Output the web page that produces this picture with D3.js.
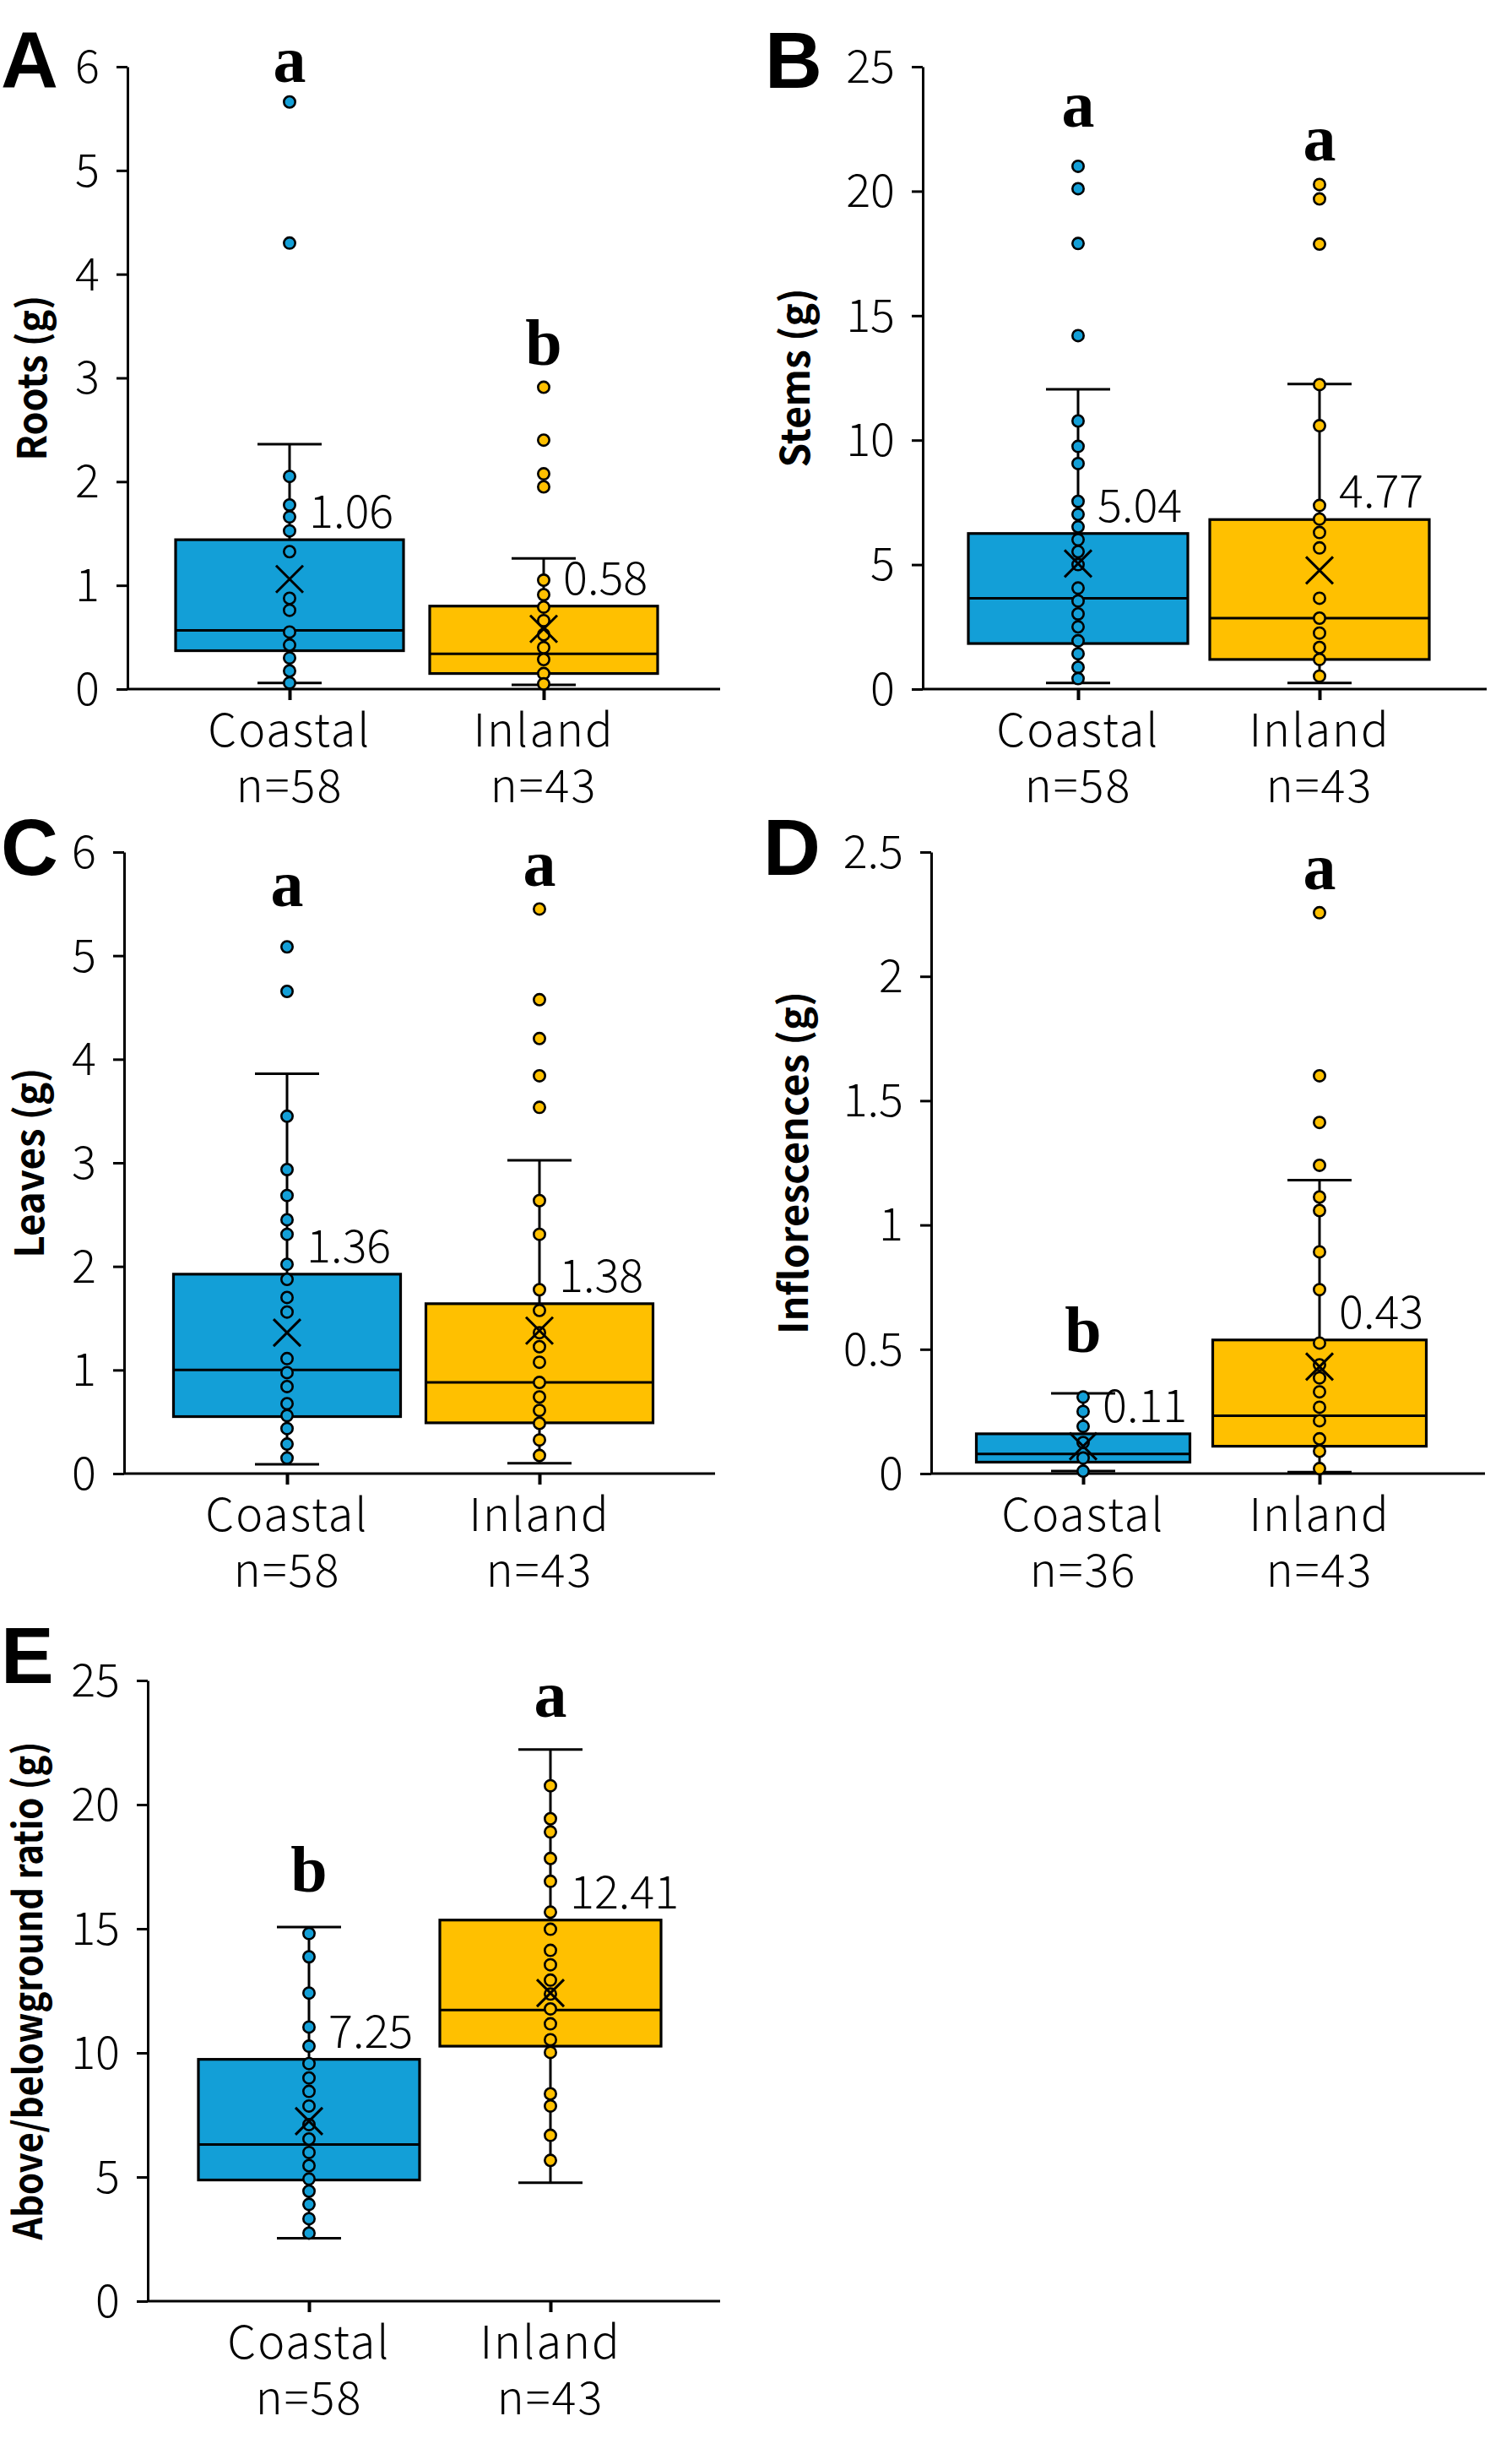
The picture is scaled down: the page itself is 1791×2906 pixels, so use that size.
<!DOCTYPE html>
<html>
<head>
<meta charset="utf-8">
<script src="https://cdn.jsdelivr.net/npm/d3@7"></script>
<style>
  body { margin: 0; background: #fff; }
  svg { display: block; }
  .lbl { font-family: "Noto Sans CJK JP", "Noto Sans", sans-serif; font-weight: 300; fill: #000; }
  .ytitle { font-family: "Noto Sans CJK JP", "Noto Sans", sans-serif; font-weight: 700; font-size: 47px; }
  .tag { font-family: "Liberation Sans", Arial, sans-serif; font-weight: 700; font-size: 94px; }
  .sig { font-family: "Liberation Serif", "Times New Roman", serif; font-weight: 700; font-size: 78px; }
</style>
</head>
<body>
<svg id="chart" width="1791" height="2906"></svg>
<script>
const groups = ["Coastal", "Inland"];
const panelTags = ["A", "B", "C", "D", "E"];
const yTitles = ["Roots (g)", "Stems (g)", "Leaves (g)", "Inflorescences (g)", "Above/belowground ratio (g)"];
const yTicks = [
    [0, 1, 2, 3, 4, 5, 6],
    [0, 5, 10, 15, 20, 25],
    [0, 1, 2, 3, 4, 5, 6],
    [0, 0.5, 1, 1.5, 2, 2.5],
    [0, 5, 10, 15, 20, 25]
];
const nCounts = [[58, 43], [58, 43], [58, 43], [36, 43], [58, 43]];

// [whisker low, q1, median, q3, whisker high]
const boxStats = [
    [[0.06, 0.37, 0.565, 1.44, 2.36], [0.04, 0.15, 0.34, 0.80, 1.26]],
    [[0.25, 1.83, 3.65, 6.25, 12.04], [0.25, 1.19, 2.85, 6.81, 12.25]],
    [[0.09, 0.55, 1.0, 1.925, 3.86], [0.10, 0.49, 0.88, 1.64, 3.025]],
    [[0.01, 0.046, 0.079, 0.16, 0.323], [0.006, 0.11, 0.233, 0.5375, 1.18]],
    [[2.53, 4.88, 6.31, 9.74, 15.07], [4.77, 10.27, 11.73, 15.35, 22.22]]
];
const means = [[1.06, 0.58], [5.04, 4.77], [1.36, 1.38], [0.11, 0.43], [7.25, 12.41]];
const letters = [["a", "b"], ["a", "a"], ["a", "a"], ["b", "a"], ["b", "a"]];
const letterAt = [[5.85, 3.125], [22.6, 21.25], [5.475, 5.675], [0.49, 2.35], [16.48, 23.54]];

// visible individual points
const rootsCoastal = [5.66, 4.3, 2.05, 1.775, 1.66, 1.525, 1.325, 0.875, 0.76, 0.55, 0.425, 0.30, 0.175, 0.06];
const rootsInland = [2.91, 2.40, 2.075, 1.95, 1.05, 0.91, 0.79, 0.66, 0.525, 0.40, 0.285, 0.15, 0.05];
const stemsCoastal = [21.0, 20.1, 17.9, 14.2, 10.77, 9.75, 9.06, 7.54, 7.02, 6.52, 6.0, 5.52, 5.0, 4.06, 3.54, 3.02, 2.5, 1.94, 1.42, 0.875, 0.42];
const stemsInland = [20.27, 19.69, 17.875, 12.23, 10.58, 7.375, 6.83, 6.29, 5.67, 3.65, 2.85, 2.25, 1.67, 1.19, 0.52];
const leavesCoastal = [5.085, 4.655, 3.45, 2.935, 2.685, 2.45, 2.31, 2.02, 1.875, 1.70, 1.56, 1.11, 0.975, 0.84, 0.675, 0.56, 0.435, 0.285, 0.15];
const leavesInland = [5.45, 4.575, 4.2, 3.84, 3.535, 2.635, 2.31, 1.775, 1.575, 1.36, 1.225, 1.075, 0.88, 0.74, 0.61, 0.485, 0.325, 0.175];
const inflCoastal = [0.308, 0.25, 0.19, 0.125, 0.0625, 0.01];
const inflInland = [2.256, 1.60, 1.4125, 1.24, 1.1125, 1.058, 0.892, 0.74, 0.525, 0.4375, 0.385, 0.329, 0.267, 0.2125, 0.14, 0.09, 0.02];
const ratioCoastal = [14.81, 13.87, 12.41, 11.04, 10.27, 9.57, 8.99, 8.45, 7.86, 7.11, 6.53, 5.99, 5.46, 4.92, 4.43, 3.90, 3.32, 2.74];
const ratioInland = [20.76, 19.43, 18.9, 17.83, 16.91, 15.67, 14.98, 14.13, 13.55, 12.93, 12.37, 11.77, 11.17, 10.53, 10.02, 8.35, 7.86, 6.68, 5.67];
const points = [
    [rootsCoastal, rootsInland],
    [stemsCoastal, stemsInland],
    [leavesCoastal, leavesInland],
    [inflCoastal, inflInland],
    [ratioCoastal, ratioInland]
];

const colors = ["#139FD7", "#FFC000"];

// panel frames in page pixels
const frames = [
    { left: 151, c: [343, 644], right: 853, top: 79, bottom: 816, boxW: 270, tag: [1, 104], titleX: 34, titleLen: 196 },
    { left: 1093, c: [1277, 1563], right: 1761, top: 79, bottom: 816, boxW: 260, tag: [906, 104], titleX: 938, titleLen: 212 },
    { left: 147, c: [340, 639], right: 847, top: 1009, bottom: 1745, boxW: 269, tag: [1, 1036], titleX: 31, titleLen: 225 },
    { left: 1103, c: [1283, 1563], right: 1759, top: 1009, bottom: 1745, boxW: 253, tag: [904, 1036], titleX: 936, titleLen: 406 },
    { left: 175, c: [366, 652], right: 853, top: 1990, bottom: 2725, boxW: 262, tag: [1, 1993], titleX: 29, titleLen: 590 }
];

const svg = d3.select("#chart");
svg.append("rect").attr("width", 1791).attr("height", 2906).attr("fill", "#fff");

frames.forEach((f, i) => {
    const g = svg.append("g");
    const ticks = yTicks[i];

    const y = d3.scaleLinear()
        .domain([0, d3.max(ticks)])
        .range([f.bottom, f.top]);

    const x = d3.scalePoint()
        .domain(groups)
        .range(f.c);

    // y axis
    g.append("g")
        .attr("transform", `translate(${f.left},0)`)
        .call(d3.axisLeft(y).tickValues(ticks).tickSize(13).tickPadding(20).tickSizeOuter(0)
            .tickFormat(d => String(d)))
        .call(a => a.selectAll("line, path").attr("stroke", "#000").attr("stroke-width", 3))
        .call(a => a.selectAll("text").attr("class", "lbl").style("font-size", "54px").attr("dy", "0.34em"));

    // x axis
    const xa = g.append("g")
        .attr("transform", `translate(0,${f.bottom})`)
        .call(d3.axisBottom(x).tickSize(13).tickSizeOuter(0).tickFormat(""));
    xa.select(".domain").remove();
    xa.selectAll("line").attr("stroke", "#000").attr("stroke-width", 4);
    g.append("line")
        .attr("x1", f.left).attr("x2", f.right)
        .attr("y1", f.bottom).attr("y2", f.bottom)
        .attr("stroke", "#000").attr("stroke-width", 3);

    groups.forEach((grp, j) => {
        const cx = x(grp);
        const s = boxStats[i][j];
        const half = f.boxW / 2;
        const cap = 38;

        // whisker
        g.append("line")
            .attr("x1", cx).attr("x2", cx)
            .attr("y1", y(s[0])).attr("y2", y(s[4]))
            .attr("stroke", "#000").attr("stroke-width", 3);
        [s[0], s[4]].forEach(v => {
            g.append("line")
                .attr("x1", cx - cap).attr("x2", cx + cap)
                .attr("y1", y(v)).attr("y2", y(v))
                .attr("stroke", "#000").attr("stroke-width", 3);
        });

        // box
        g.append("rect")
            .attr("x", cx - half)
            .attr("y", y(s[3]))
            .attr("width", f.boxW)
            .attr("height", y(s[1]) - y(s[3]))
            .attr("fill", colors[j])
            .attr("stroke", "#000")
            .attr("stroke-width", 3.2);
        g.append("line")
            .attr("x1", cx - half).attr("x2", cx + half)
            .attr("y1", y(s[2])).attr("y2", y(s[2]))
            .attr("stroke", "#000").attr("stroke-width", 3);

        // points
        g.selectAll(null)
            .data(points[i][j])
            .join("circle")
            .attr("cx", cx)
            .attr("cy", d => y(d))
            .attr("r", 6.7)
            .attr("fill", colors[j])
            .attr("stroke", "#000")
            .attr("stroke-width", 2.6);

        // mean marker
        const my = y(means[i][j]);
        const m = 16;
        g.append("path")
            .attr("d", `M${cx - m},${my - m}L${cx + m},${my + m}M${cx - m},${my + m}L${cx + m},${my - m}`)
            .attr("stroke", "#000")
            .attr("stroke-width", 3)
            .attr("fill", "none");

        // mean label
        g.append("text")
            .attr("class", "lbl")
            .style("font-size", "54px")
            .attr("x", cx + 23)
            .attr("y", y(s[3]) - 14)
            .text(means[i][j].toFixed(2));

        // significance letter
        g.append("text")
            .attr("class", "sig")
            .attr("text-anchor", "middle")
            .attr("x", cx)
            .attr("y", y(letterAt[i][j]))
            .text(letters[i][j]);

        // category + n
        g.append("text")
            .attr("class", "lbl")
            .style("font-size", "54px")
            .style("letter-spacing", "2px")
            .attr("text-anchor", "middle")
            .attr("x", cx)
            .attr("y", f.bottom + 68)
            .text(grp);
        g.append("text")
            .attr("class", "lbl")
            .style("font-size", "54px")
            .style("letter-spacing", "2px")
            .attr("text-anchor", "middle")
            .attr("x", cx)
            .attr("y", f.bottom + 134)
            .text("n=" + nCounts[i][j]);
    });

    // y title
    g.append("text")
        .attr("class", "ytitle")
        .attr("text-anchor", "middle")
        .attr("dominant-baseline", "central")
        .attr("textLength", f.titleLen)
        .attr("lengthAdjust", "spacingAndGlyphs")
        .attr("transform", `translate(${f.titleX},${(f.top + f.bottom) / 2}) rotate(-90)`)
        .text(yTitles[i]);

    // panel tag
    g.append("text")
        .attr("class", "tag")
        .attr("x", f.tag[0])
        .attr("y", f.tag[1])
        .text(panelTags[i]);
});
</script>
</body>
</html>
